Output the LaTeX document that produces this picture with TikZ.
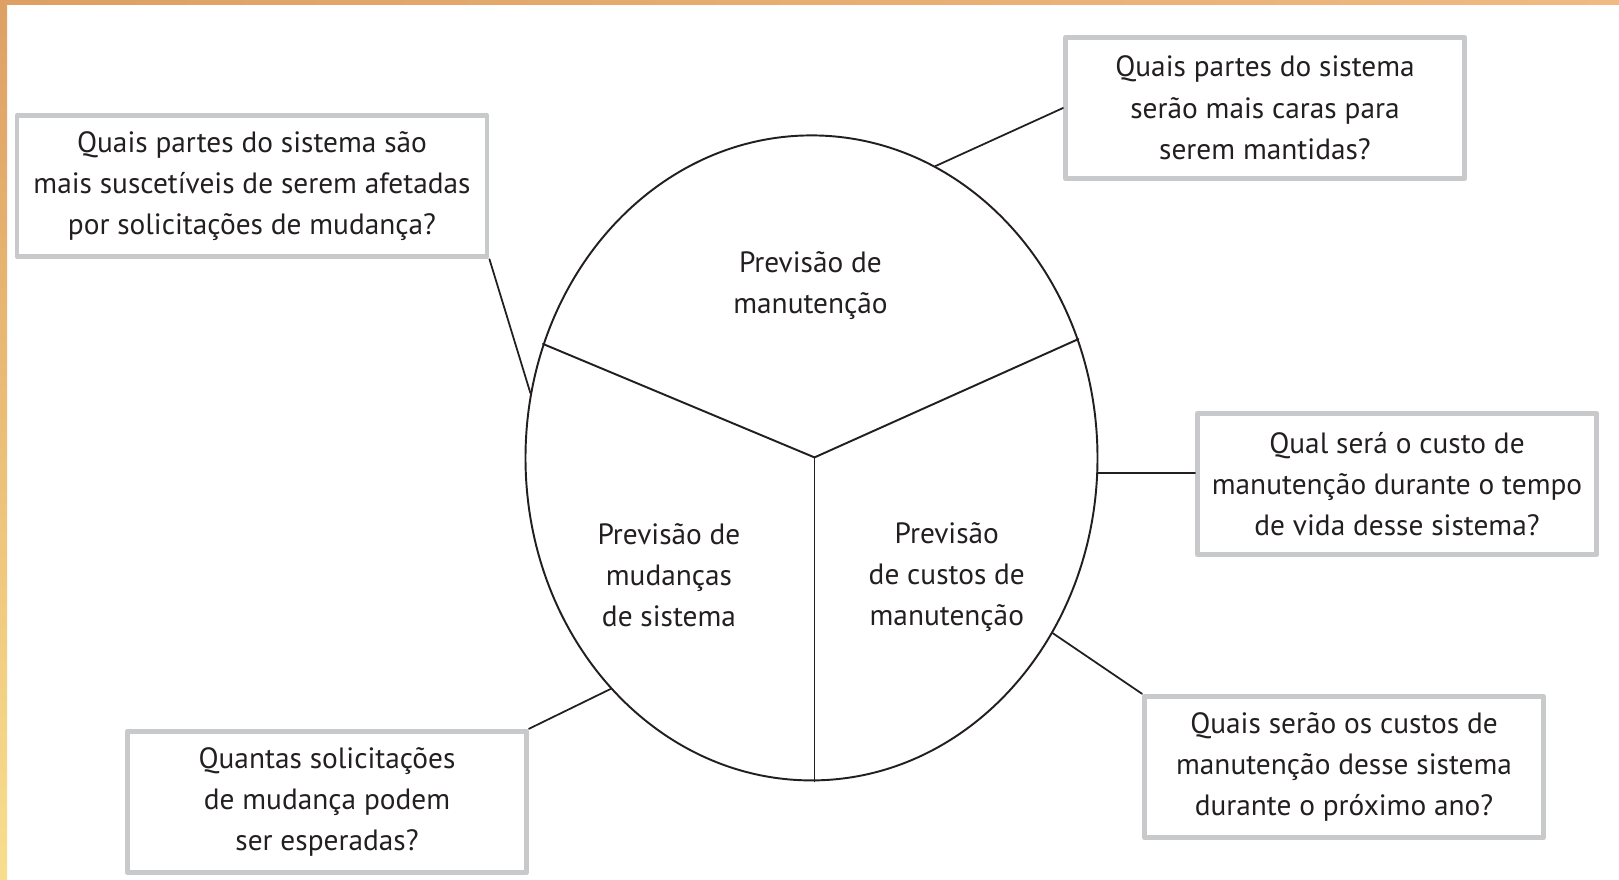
\documentclass[tikz,border=0pt]{standalone}
\usepackage{fontspec}
\setmainfont{PT Sans}
\usetikzlibrary{shapes.geometric}
\definecolor{boxgray}{RGB}{200,201,203}
\definecolor{inkgray}{RGB}{35,31,32}
\definecolor{edgeorange}{RGB}{222,160,100}
\definecolor{edgeyellow}{RGB}{248,222,140}
\definecolor{toppeach}{RGB}{240,186,130}
\newcommand{\boxfont}{\fontsize{8.35}{11.76}\selectfont}

\begin{document}
\begin{tikzpicture}[line cap=round,line join=round,x=1cm,y=1cm,
  question/.style={draw=boxgray,line width=1.4pt,minimum width=3.99cm,minimum height=1.415cm,inner sep=0pt,align=center,font=\boxfont,text=inkgray},
  topic/.style={align=center,font=\boxfont,text=inkgray},
  link/.style={line width=0.5pt,draw=inkgray}]

\useasboundingbox (0,0) rectangle (16.19,8.79);
\shade[top color=edgeorange,bottom color=edgeyellow] (0,0) rectangle (0.07,8.79);
\shade[left color=edgeorange,right color=toppeach] (0,8.75) rectangle (16.19,8.79);

\node[draw=inkgray,ellipse,line width=0.55pt,minimum width=5.72cm,minimum height=6.45cm,inner sep=0pt] (cyc) at (8.115,4.211) {};
\coordinate (hub) at (8.145,4.216);
\draw[line width=0.55pt,inkgray] (cyc.157.5) -- (hub) -- (cyc.24.9);
\draw[line width=0.55pt,inkgray] (hub) -- (hub |- cyc.south);

\node[topic] (pmanut) at (8.105,5.935) {Previsão de\\manutenção};
\node[topic] (pmud) at (6.69,3.038) {Previsão de\\mudanças\\de sistema};
\node[topic] (pcust) at (9.468,3.018) {Previsão\\de custos de\\manutenção};

\node[question,minimum width=4.70cm] (qpartes) at (2.52,6.93) {Quais partes do sistema são\\mais suscetíveis de serem afetadas\\por solicitações de mudança?};
\node[question] (qcaras) at (12.65,7.71) {Quais partes do sistema\\serão mais caras para\\serem mantidas?};
\node[question] (qvida) at (13.97,3.95) {Qual será o custo de\\manutenção durante o tempo\\de vida desse sistema?};
\node[question] (qano) at (13.44,1.12) {Quais serão os custos de\\manutenção desse sistema\\durante o próximo ano?};
\node[question] (qsolic) at (3.27,0.77) {Quantas solicitações\\de mudança podem\\ser esperadas?};

\draw[link] (cyc.167.5) -- (qpartes.south east);
\draw[link] (cyc.67.4) -- (qcaras.west);
\draw[link] (cyc.-3.6) -- (cyc.-3.6 -| qvida.west);
\draw[link] (cyc.-36.9) -- (qano.north west);
\draw[link] (cyc.229.6) -- (qsolic.north east);

\end{tikzpicture}
\end{document}
